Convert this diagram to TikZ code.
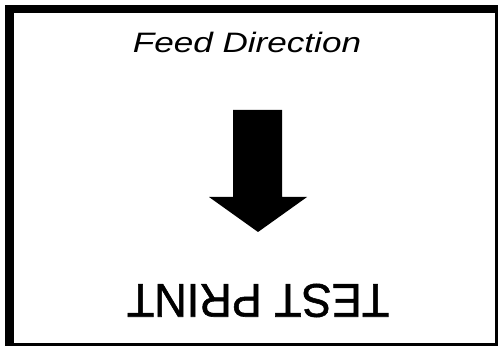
\documentclass[tikz,border=0pt]{standalone}
\usepackage{fontspec}
\setmainfont{Liberation Sans}
\newfontfamily\boldish[FakeBold=1.2]{Liberation Sans}
\tikzset{
  framefill/.style={fill=black, draw=none},
  lbl/.style={inner sep=0pt, text=black}
}
\begin{document}
\begin{tikzpicture}[x=1pt,y=-1pt]
\useasboundingbox (0,0) rectangle (498,347);
\fill[white] (0,0) rectangle (498,347);
% frame
\fill[framefill] (5,5) rectangle (497,13.5);
\fill[framefill] (5,5) rectangle (13.5,346);
\fill[framefill] (495,5) rectangle (497.5,346);
\fill[framefill] (5,342.5) rectangle (497.5,346);
% label
\node[lbl] (feed) at (247,42) {\scalebox{1.3}[1.04]{\fontsize{27}{30}\selectfont\itshape Feed Direction}};
% arrow
\fill[black] (233,110) -- (282,110) -- (282,197) -- (307,197) -- (258,232) -- (209,197) -- (233,197) -- cycle;
% upside-down text
\node[lbl, rotate=180] (test) at (258,300.5) {\scalebox{1}[1.05]{\boldish\fontsize{45}{50}\selectfont TEST PRINT}};
\end{tikzpicture}
\end{document}
